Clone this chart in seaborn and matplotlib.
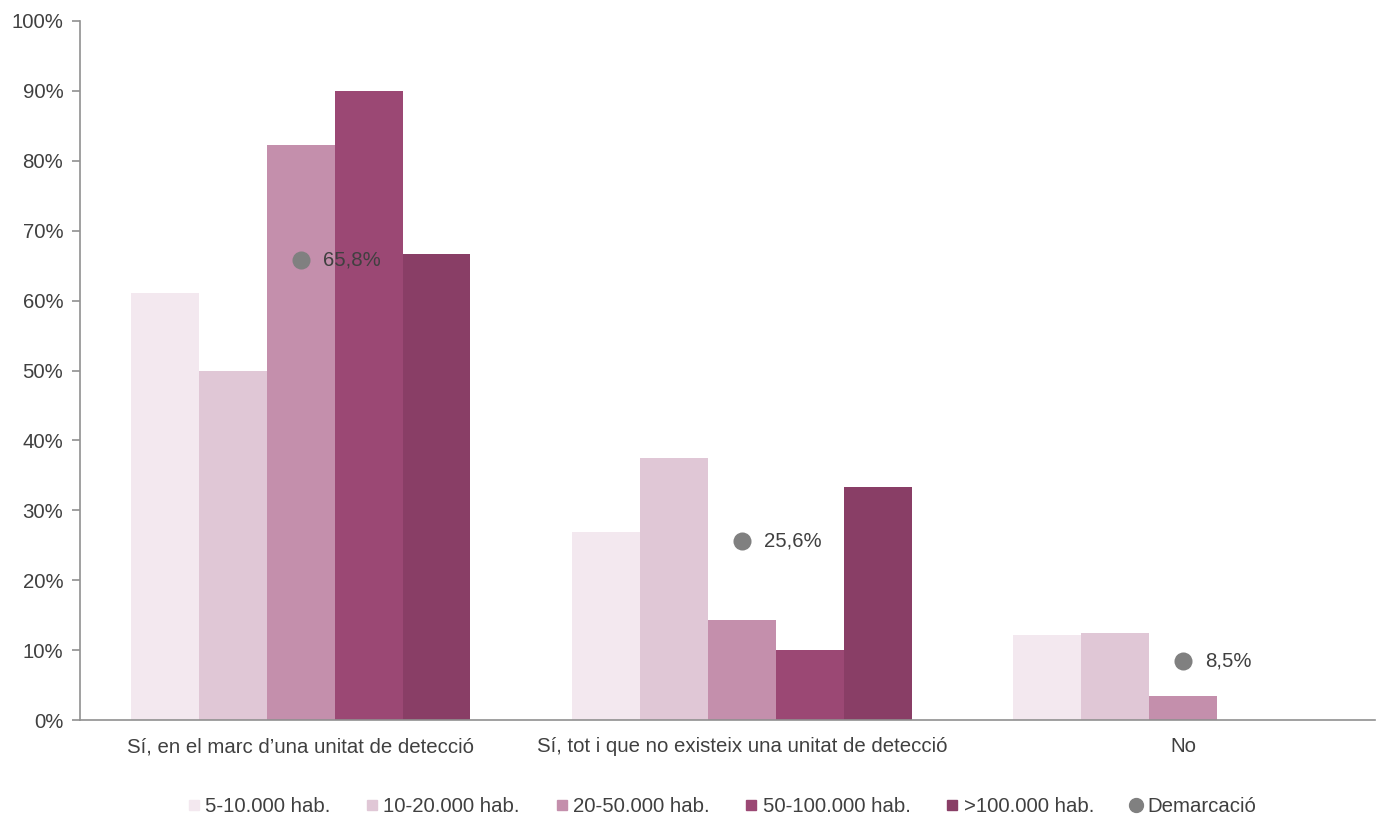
import matplotlib
matplotlib.use("Agg")
import matplotlib.pyplot as plt
from matplotlib.lines import Line2D
from matplotlib.ticker import PercentFormatter
import pandas as pd
import seaborn as sns

categories = [
    "Sí, en el marc d’una unitat de detecció",
    "Sí, tot i que no existeix una unitat de detecció",
    "No",
]
sizes = ["5-10.000 hab.", "10-20.000 hab.", "20-50.000 hab.", "50-100.000 hab.", ">100.000 hab."]
values = {
    "5-10.000 hab.": [61.1, 26.9, 12.2],
    "10-20.000 hab.": [50.0, 37.5, 12.5],
    "20-50.000 hab.": [82.3, 14.3, 3.5],
    "50-100.000 hab.": [90.0, 10.0, 0.0],
    ">100.000 hab.": [66.7, 33.3, 0.0],
}
demarcacio = [65.8, 25.6, 8.5]
demarcacio_labels = ["65,8%", "25,6%", "8,5%"]
colors = ["#F3E8EF", "#E0C7D6", "#C48FAC", "#9B4874", "#893E66"]

rows = []
for s in sizes:
    for c, v in zip(categories, values[s]):
        rows.append({"cat": c, "size": s, "pct": v})
df = pd.DataFrame(rows)

sns.set_style("white")
plt.rcParams["font.family"] = ["Liberation Sans", "DejaVu Sans"]
FS = 14.7

fig = plt.figure(figsize=(13.9, 8.15), dpi=100)
ax = fig.add_axes([80 / 1390, 1 - 720 / 815, 1295 / 1390, 699 / 815])

sns.barplot(data=df, x="cat", y="pct", hue="size", order=categories, hue_order=sizes,
            palette=colors, width=0.77, gap=0, linewidth=0, saturation=1,
            legend=False, ax=ax)
sns.stripplot(x=categories, y=demarcacio, order=categories, jitter=False,
              color="#808080", size=13, linewidth=0, ax=ax, zorder=5)
for i, (v, lab) in enumerate(zip(demarcacio, demarcacio_labels)):
    ax.text(i + 0.05, v, lab, va="center", ha="left", fontsize=FS, color="#404040", zorder=6)

ax.set_ylim(0, 100)
ax.set_xlim(-0.5, 2.435)
ax.set_yticks(range(0, 101, 10))
ax.yaxis.set_major_formatter(PercentFormatter(decimals=0))
ax.set_xlabel("")
ax.set_ylabel("")
sns.despine(ax=ax)
for sp in ["left", "bottom"]:
    ax.spines[sp].set_color("#909090")
    ax.spines[sp].set_linewidth(1.2)
ax.tick_params(axis="y", left=True, length=6, width=1.2, color="#909090",
               labelsize=FS, labelcolor="#404040", pad=6)
ax.tick_params(axis="x", bottom=False, labelsize=FS, labelcolor="#404040", pad=9)

handles = [Line2D([], [], marker="s", linestyle="", color=c, markersize=7) for c in colors]
handles.append(Line2D([], [], marker="o", linestyle="", color="#808080", markersize=10))
fig.legend(handles, sizes + ["Demarcació"], loc="lower center", bbox_to_anchor=(0.517, -0.024),
           ncol=6, frameon=False, fontsize=FS, handletextpad=-0.05, columnspacing=1.45,
           handlelength=1.2, labelcolor="#404040")

fig.savefig("out.png", dpi=100)
